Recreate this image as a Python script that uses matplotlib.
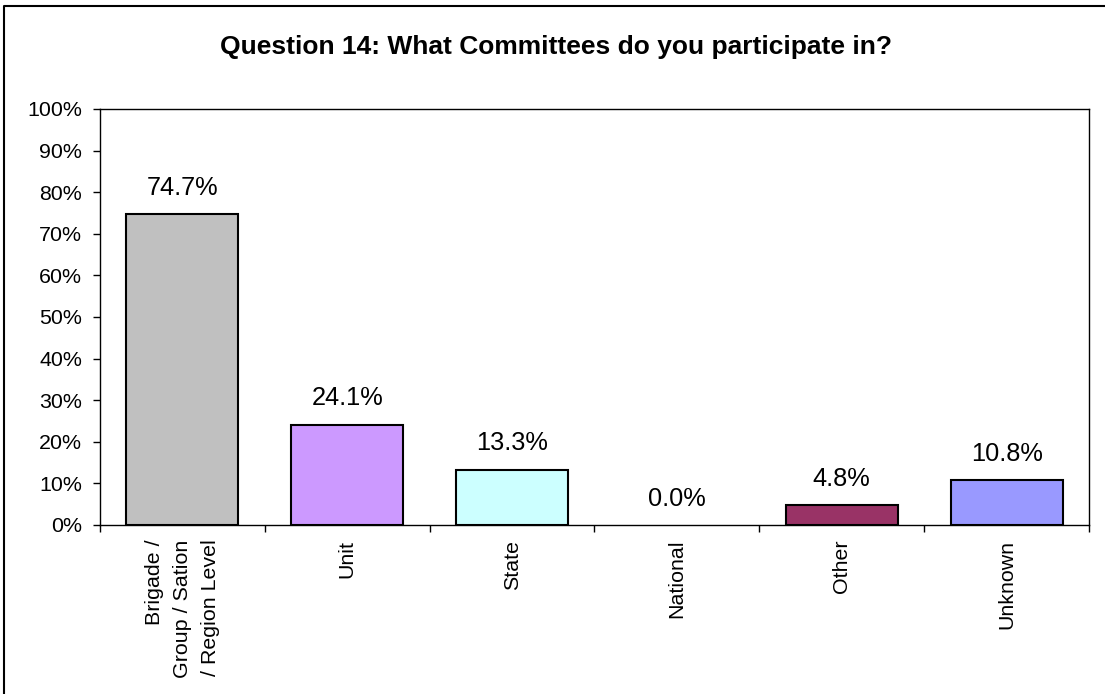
import numpy as np
import matplotlib.pyplot as plt
from matplotlib.lines import Line2D
from matplotlib.ticker import FixedLocator, FuncFormatter

plt.rcParams['font.family'] = ['Liberation Sans', 'DejaVu Sans']

# 回答データ
categories = ["Brigade /\nGroup / Sation\n/ Region Level", "Unit", "State",
              "National", "Other", "Unknown"]
values = [74.7, 24.1, 13.3, 0.0, 4.8, 10.8]
colors = ['#C0C0C0', '#CC99FF', '#CCFFFF', '#FFFFFF', '#993366', '#9999FF']

fig = plt.figure(figsize=(11.05, 6.94), dpi=100)
ax = fig.add_axes([100 / 1105, 1 - 525 / 694, 989 / 1105, 416 / 694])

x = np.arange(len(categories))
edges = ['black' if v > 0 else 'none' for v in values]  # 0%の棒は枠線なし
ax.bar(x, values, width=0.68, color=colors, edgecolor=edges, linewidth=1.5)

# 棒の上に値を表示
for xi, v in zip(x, values):
    ax.annotate("{:.1f}%".format(v), (xi, v), xytext=(0, 14), textcoords='offset points',
                ha='center', va='baseline', fontsize=18.3)

ax.set_xlim(-0.5, len(categories) - 0.5)
ax.set_ylim(0, 100)
ax.set_yticks(np.arange(0, 101, 10))
ax.yaxis.set_major_formatter(FuncFormatter(lambda v, p: "{:.0f}%".format(v)))
ax.tick_params(axis='y', length=5, width=1, labelsize=15.4, pad=8, direction='out')

# x軸: 区切り位置に目盛り、ラベルはカテゴリ中央
ax.xaxis.set_major_locator(FixedLocator(np.arange(-0.5, len(categories), 1.0)))
ax.set_xticklabels([])
ax.tick_params(axis='x', length=5, width=1, direction='out')
for xi, name in zip(x, categories):
    ax.text(xi, -0.035, name, transform=ax.get_xaxis_transform(), rotation=90,
            ha='center', va='top', multialignment='right', fontsize=15.4,
            linespacing=1.62)

for s in ax.spines.values():
    s.set_linewidth(1)

fig.text(0.503, 1 - 47 / 694, "Question 14: What Committees do you participate in?",
         ha='center', va='center', fontsize=19, fontweight='bold')

# 外枠（左と上のみ）
x0, y0 = 4 / 1105, 1 - 5.5 / 694
fig.lines.append(Line2D([x0, x0, 1.0], [0.0, y0, y0], transform=fig.transFigure,
                        color='black', linewidth=1.5))

fig.savefig('out.png', dpi=100)
